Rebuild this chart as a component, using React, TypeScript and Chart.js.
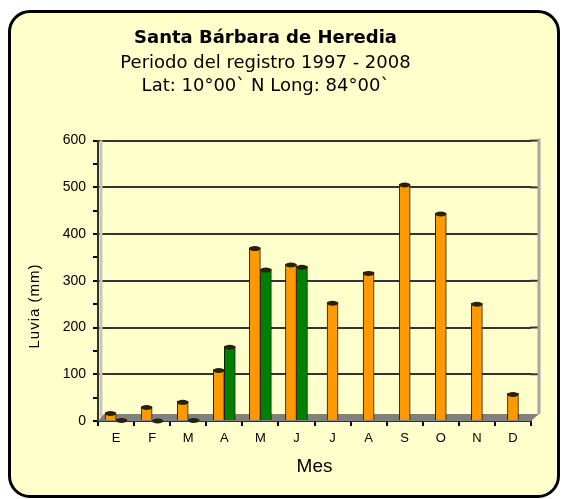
import React, { useEffect, useRef } from "react";
import { Chart, registerables } from "chart.js";

Chart.register(...registerables);

const months = ["E", "F", "M", "A", "M", "J", "J", "A", "S", "O", "N", "D"];
const seriesOrange = [18, 31, 42, 110, 371, 336, 254, 318, 507, 445, 252, 59];
const seriesGreen: (number | null)[] = [3, 2, 3, 160, 325, 331, null, null, null, null, null, null];
const yTicks = [0, 100, 200, 300, 400, 500, 600];
const titleText = "Santa Bárbara de Heredia";
const subtitleLines = ["Periodo del registro 1997 - 2008", "Lat: 10°00` N Long: 84°00`"];
const yTitle = "Luvia (mm)";
const xTitle = "Mes";

const decoPlugin = {
  id: "deco",
  beforeDatasetsDraw(chart: any) {
    const { ctx, chartArea: a, scales } = chart;
    ctx.save();
    // grid extensions to the back wall
    ctx.strokeStyle = "#333";
    ctx.lineWidth = 2;
    yTicks.forEach((v) => {
      if (v === 0) return;
      const y = scales.y.getPixelForValue(v);
      ctx.beginPath();
      ctx.moveTo(a.right - 1, y);
      ctx.lineTo(a.right + 8, y);
      ctx.stroke();
    });
    // back wall right edge
    ctx.strokeStyle = "#a8a8a0";
    ctx.lineWidth = 3;
    ctx.beginPath();
    ctx.moveTo(a.right + 8, a.top - 2);
    ctx.lineTo(a.right + 8, a.bottom - 7);
    ctx.stroke();
    // left wall inner light line
    ctx.strokeStyle = "#c8c8b8";
    ctx.lineWidth = 3;
    ctx.beginPath();
    ctx.moveTo(a.left + 3, a.top);
    ctx.lineTo(a.left + 3, a.bottom - 4);
    ctx.stroke();
    // floor
    ctx.fillStyle = "#808080";
    ctx.beginPath();
    ctx.moveTo(a.left, a.bottom);
    ctx.lineTo(a.right, a.bottom);
    ctx.lineTo(a.right + 8, a.bottom - 7);
    ctx.lineTo(a.left + 6, a.bottom - 7);
    ctx.closePath();
    ctx.fill();
    ctx.restore();
  },
  afterDatasetsDraw(chart: any) {
    const { ctx } = chart;
    ctx.save();
    chart.data.datasets.forEach((ds: any, i: number) => {
      const meta = chart.getDatasetMeta(i);
      meta.data.forEach((el: any, j: number) => {
        if (ds.data[j] == null) return;
        const w = el.width;
        ctx.beginPath();
        ctx.ellipse(el.x, el.y + 1, w / 2, 2.5, 0, 0, Math.PI * 2);
        ctx.fillStyle = "#2a2010";
        ctx.fill();
      });
    });
    ctx.restore();
  },
  afterDraw(chart: any) {
    const { ctx } = chart;
    ctx.save();
    ctx.translate(35, 306);
    ctx.rotate(-Math.PI / 2);
    ctx.font = "15px 'Liberation Sans', Arial, sans-serif";
    (ctx as any).letterSpacing = "1px";
    ctx.fillStyle = "#000";
    ctx.textAlign = "center";
    ctx.textBaseline = "middle";
    ctx.fillText(yTitle, 0, 0);
    ctx.restore();
  },
};

export default function App() {
  const ref = useRef<HTMLCanvasElement | null>(null);

  useEffect(() => {
    if (!ref.current) return;
    Chart.defaults.color = "#000";
    const chart = new Chart(ref.current, {
      type: "bar",
      data: {
        labels: months,
        datasets: [
          {
            data: seriesOrange,
            backgroundColor: "#FF9900",
            borderColor: "#2a1a00",
            borderWidth: 1,
          },
          {
            data: seriesGreen,
            backgroundColor: "#008000",
            borderColor: "#0a200a",
            borderWidth: 1,
          },
        ],
      },
      options: {
        responsive: false,
        animation: false,
        layout: { padding: { left: 0, right: 32, top: 0, bottom: 0 } },
        datasets: {
          bar: {
            barThickness: 11,
            skipNull: true,
          },
        } as any,
        plugins: {
          legend: { display: false },
          tooltip: { enabled: false },
          title: {
            display: true,
            text: titleText,
            color: "#000",
            font: { family: "'DejaVu Sans', Verdana, sans-serif", size: 18, weight: "bold", lineHeight: 1.2 },
            padding: { top: 28, bottom: 0 },
          },
          subtitle: {
            display: true,
            text: subtitleLines,
            color: "#000",
            font: { family: "'DejaVu Sans', Verdana, sans-serif", size: 18, lineHeight: 23 / 18 },
            padding: { top: 2, bottom: 43 },
          },
        },
        scales: {
          x: {
            afterFit(scale: any) {
              scale.height = 78;
            },
            grid: {
              display: true,
              drawOnChartArea: false,
              offset: true,
              color: "#000",
              tickLength: 5,
              lineWidth: 2,
            },
            border: { display: true, color: "#333", width: 2 },
            ticks: {
              font: { family: "'Liberation Sans', Arial, sans-serif", size: 13 },
              color: "#000",
              padding: 5,
            },
            title: {
              display: true,
              text: xTitle,
              color: "#000",
              font: { family: "'Liberation Sans', Arial, sans-serif", size: 19 },
              padding: { top: 0, bottom: 21 },
            },
          },
          y: {
            min: 0,
            max: 600,
            afterFit(scale: any) {
              scale.width = 98;
            },
            grid: {
              color: (c: any) => (yTicks.includes(c.tick?.value) && c.tick.value !== 0 ? "#333" : "rgba(0,0,0,0)"),
              tickColor: "#000",
              tickLength: 5,
              lineWidth: 2,
            },
            border: { display: true, color: "#333", width: 2 },
            ticks: {
              stepSize: 50,
              autoSkip: false,
              padding: 7,
              font: { family: "'Liberation Sans', Arial, sans-serif", size: 14 },
              color: "#000",
              callback: (v: any) => (yTicks.includes(Number(v)) ? String(v) : ""),
            },
          },
        },
      },
      plugins: [decoPlugin],
    });
    return () => chart.destroy();
  }, []);

  return (
    <div style={{ position: "fixed", left: 0, top: 0, width: 563, height: 499, background: "#fff" }}>
      <div
        style={{
          position: "absolute",
          left: 8,
          top: 10,
          width: 552,
          height: 488,
          boxSizing: "border-box",
          border: "3px solid #000",
          borderRadius: 22,
          background: "#FFFFCC",
        }}
      />
      <canvas ref={ref} width={563} height={499} style={{ position: "absolute", left: 0, top: 0 }} />
    </div>
  );
}
